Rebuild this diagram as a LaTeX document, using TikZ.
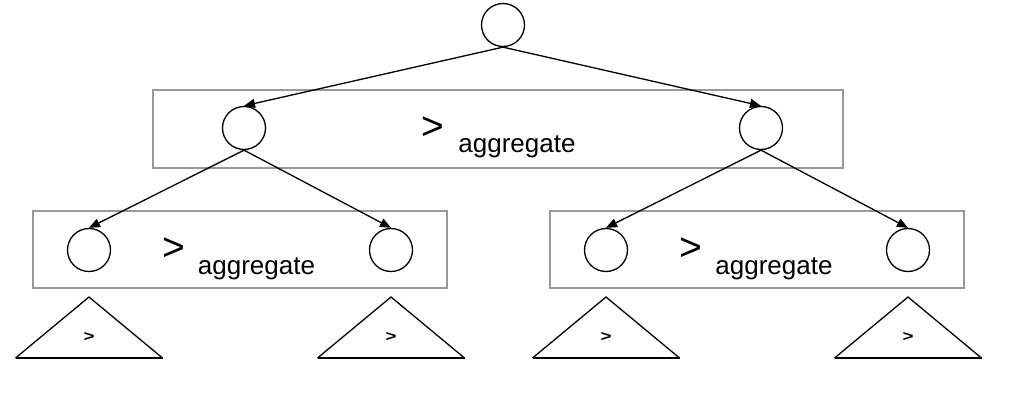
\documentclass[tikz,border=0pt]{standalone}
\usepackage{fontspec}
\setmainfont{Liberation Sans}
\usetikzlibrary{arrows.meta}
\begin{document}
\begin{tikzpicture}[x=1pt,y=-1pt,
  nd/.style={draw=black,circle,minimum size=43pt,inner sep=0pt,line width=1.3pt},
  grp/.style={draw=black!40,line width=1.6pt,rectangle,inner sep=0pt},
  edge/.style={line width=1.3pt,-{Triangle[length=11pt,width=9pt]}},
  gt/.style={font=\fontsize{39}{40}\selectfont,inner sep=0pt},
  agg/.style={font=\fontsize{26}{30}\selectfont,inner sep=0pt,anchor=base},
  sgt/.style={font=\fontsize{15}{16}\selectfont\bfseries,inner sep=0pt,xscale=1.25},
  tri/.style={draw=black,line width=1.3pt,line join=miter}
]
\useasboundingbox (0,0) rectangle (1012,404);
% groups
\node[grp,minimum width=690pt,minimum height=78pt] (g1) at (498,129) {};
\node[grp,minimum width=414pt,minimum height=77pt] (g2) at (240,249.5) {};
\node[grp,minimum width=414pt,minimum height=77pt] (g3) at (757,249.5) {};
% labels
\node[gt] (l1) at (433,128.5) {>};
\node[agg] (a1) at (517,152) {aggregate};
\node[gt] (l2) at (173.5,249.5) {>};
\node[agg] (a2) at (256.5,274) {aggregate};
\node[gt] (l3) at (691,249.5) {>};
\node[agg] (a3) at (774,274) {aggregate};
% circles
\node[nd] (r) at (503,25) {};
\node[nd] (c1) at (244,128) {};
\node[nd] (c2) at (761,128) {};
\node[nd] (d1) at (89,250) {};
\node[nd] (d2) at (391,250) {};
\node[nd] (d3) at (606,250) {};
\node[nd] (d4) at (908,250) {};
% edges
\draw[edge] (r.south) -- (c1.north);
\draw[edge] (r.south) -- (c2.north);
\draw[edge] (c1.south) -- (d1.north);
\draw[edge] (c1.south) -- (d2.north);
\draw[edge] (c2.south) -- (d3.north);
\draw[edge] (c2.south) -- (d4.north);
% subtrees
\foreach \cx/\nm in {89/t1,391/t2,606/t3,908/t4}{
  \draw[tri] (\cx-73.5,358) -- (\cx,297) -- (\cx+73.5,358);
  \draw[line width=2pt] (\cx-73.5,358) -- (\cx+73.5,358);
  \node[sgt] (\nm) at (\cx,336.5) {>};
}
\end{tikzpicture}
\end{document}
